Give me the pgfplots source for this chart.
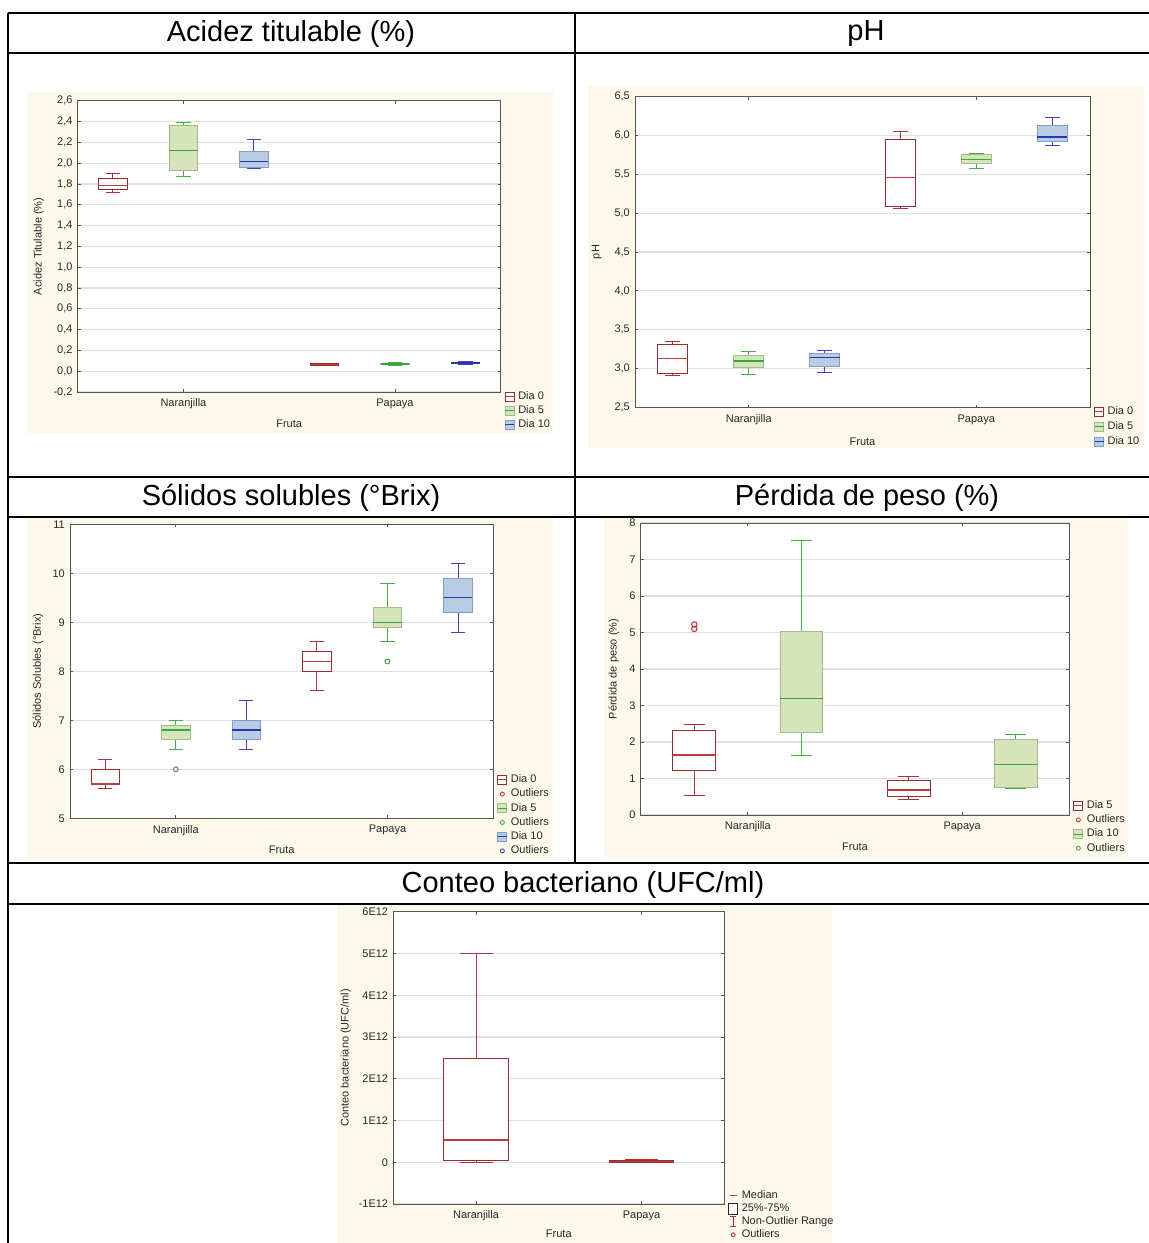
\documentclass[border=0pt]{standalone}
\usepackage{fontspec}
\setmainfont{Liberation Sans}
\usepackage{pgfplots}
\pgfplotsset{compat=1.18}
\usepgfplotslibrary{statistics}
\definecolor{cream}{RGB}{253,249,234}
\definecolor{frame}{RGB}{85,85,85}
\definecolor{gridc}{RGB}{224,224,224}
\definecolor{txt}{RGB}{40,40,40}
\definecolor{rE}{RGB}{150,45,45}
\definecolor{rM}{RGB}{190,60,60}
\definecolor{rW}{RGB}{175,50,50}
\definecolor{gE}{RGB}{160,188,135}
\definecolor{gF}{RGB}{214,228,188}
\definecolor{gM}{RGB}{55,168,55}
\definecolor{gW}{RGB}{70,175,70}
\definecolor{bE}{RGB}{128,158,200}
\definecolor{bF}{RGB}{184,204,228}
\definecolor{bM}{RGB}{40,55,175}
\definecolor{bW}{RGB}{65,65,190}
\newcommand{\sm}{\fontsize{11bp}{13bp}\selectfont}
\newcommand{\hdr}{\fontsize{29bp}{34bp}\selectfont}
\newcommand{\spacer}{\path[draw=none,fill=none] (0bp,0bp) rectangle (12bp,0.1bp);}
\newcommand{\legbox}[3]{\addlegendimage{legend image code/.code={\spacer \draw[draw=#1,fill=#2,line width=0.9bp] (0bp,-4.5bp) rectangle (9bp,4.5bp); \draw[draw=#3,line width=1.1bp] (0bp,0bp) -- (9bp,0bp);}}}
\newcommand{\legout}[1]{\addlegendimage{legend image code/.code={\spacer \draw[draw=#1,fill=none,line width=0.9bp] (4.5bp,0bp) circle (2bp);}}}
\pgfplotsset{
  panel/.style={
    scale only axis, anchor=north west,
    xmin=0.5, xmax=2.5, xtick={1,2}, xticklabels={Naranjilla,Papaya},
    axis line style={draw=frame, line width=0.9bp},
    tick style={draw=frame, line width=0.8bp},
    tick align=inside, tick pos=both, major tick length=3bp,
    ymajorgrids, grid style={draw=gridc, line width=1.2bp},
    axis background/.style={fill=white},
    font=\sm,
    every tick label/.append style={text=txt, font=\sm},
    xticklabel style={anchor=center, yshift=-12bp},
    yticklabel style={anchor=east, inner sep=0pt, xshift=-5bp},
    /pgf/number format/assume math mode=true,
    xlabel={Fruta},
    every axis x label/.style={anchor=center, text=txt, font=\sm},
    every axis y label/.style={anchor=center, rotate=90, text=txt, font=\sm},
    legend cell align=left,
    boxplot/draw direction=y,
  },
  lg/.style 2 args={legend style={at={(1,0)}, anchor=north west, xshift=#1, yshift=#2,
    draw=none, fill=none, inner sep=0pt, outer sep=0pt, row sep=1.7bp, font=\sm, text=txt,
    nodes={inner sep=1bp, text height=8bp, text depth=2.5bp}}},
  dR/.style={boxplot/every box/.style={draw=rE,fill=white,line width=1bp}, boxplot/every median/.style={draw=rM,line width=1.2bp}, boxplot/every whisker/.style={draw=rW,line width=1bp}},
  dG/.style={boxplot/every box/.style={draw=gE,fill=gF,line width=1bp}, boxplot/every median/.style={draw=gM,line width=1.3bp}, boxplot/every whisker/.style={draw=gW,line width=1bp}},
  dB/.style={boxplot/every box/.style={draw=bE,fill=bF,line width=1bp}, boxplot/every median/.style={draw=bM,line width=1.3bp}, boxplot/every whisker/.style={draw=bW,line width=1bp}},
}
\begin{document}
\begin{tikzpicture}
\path[use as bounding box] (0bp,0bp) rectangle (1149bp,-1243bp);
\begin{scope}[x=1bp,y=-1bp]
\fill[cream] (27,92) rectangle (553,433);
\fill[cream] (588,86) rectangle (1144,448);
\fill[cream] (27,518) rectangle (553,858);
\fill[cream] (604,518) rectangle (1128,857);
\fill[cream] (337,905) rectangle (832,1243);
\begin{scope}[line width=1.6bp, black]
\draw (8,13) -- (1149,13);
\draw (8,53) -- (1149,53);
\draw (8,477) -- (1149,477);
\draw (8,517) -- (1149,517);
\draw (8,863) -- (1149,863);
\draw (8,904) -- (1149,904);
\draw (8,13) -- (8,1243);
\draw (575,13) -- (575,863);
\end{scope}
\node[font=\hdr, inner sep=0pt] at (291,34) {Acidez titulable (\%)};
\node[font=\hdr, inner sep=0pt] at (866,34) {pH};
\node[font=\hdr, inner sep=0pt] at (291,498) {Sólidos solubles (°Brix)};
\node[font=\hdr, inner sep=0pt] at (867,498) {Pérdida de peso (\%)};
\node[font=\hdr, inner sep=0pt] at (583,884.5) {Conteo bacteriano (UFC/ml)};
\end{scope}

% Panel 1: Acidez
\begin{axis}[panel, at={(77.7bp,-100.7bp)}, width=423bp, height=291.3bp,
  ymin=-0.2, ymax=2.6, ytick={-0.2,0,0.2,0.4,0.6,0.8,1,1.2,1.4,1.6,1.8,2,2.2,2.4,2.6},
  yticklabel style={/pgf/number format/.cd, fixed, fixed zerofill, precision=1, use comma},
  ylabel={Acidez Titulable (\%)},
  x label style={at={(axis description cs:0.5,-0.11)}},
  y label style={at={(axis description cs:-0.0922,0.5)}},
  boxplot={box extend=0.135, whisker extend=0.0675},
  lg={4bp}{1.8bp}]
\addplot[dR, forget plot, boxplot prepared={draw position=0.6667, lower whisker=1.716, lower quartile=1.748, median=1.783, upper quartile=1.857, upper whisker=1.898}] coordinates {};
\addplot[dG, forget plot, boxplot prepared={draw position=1, lower whisker=1.873, lower quartile=1.930, median=2.119, upper quartile=2.363, upper whisker=2.392}] coordinates {};
\addplot[dB, forget plot, boxplot prepared={draw position=1.3333, lower whisker=1.946, lower quartile=1.962, median=2.017, upper quartile=2.113, upper whisker=2.225}] coordinates {};
\addplot[dR, forget plot, boxplot prepared={draw position=1.6667, lower whisker=0.050, lower quartile=0.058, median=0.065, upper quartile=0.075, upper whisker=0.077}] coordinates {};
\addplot[dG, forget plot, boxplot prepared={draw position=2, lower whisker=0.058, lower quartile=0.062, median=0.068, upper quartile=0.076, upper whisker=0.080}] coordinates {};
\addplot[dB, forget plot, boxplot prepared={draw position=2.3333, lower whisker=0.068, lower quartile=0.072, median=0.080, upper quartile=0.087, upper whisker=0.090}] coordinates {};
\legbox{rE}{white}{rM}\addlegendentry{Dia 0}
\legbox{gE}{gF}{gM}\addlegendentry{Dia 5}
\legbox{bE}{bF}{bM}\addlegendentry{Dia 10}
\end{axis}

% Panel 2: pH
\begin{axis}[panel, at={(635bp,-96.5bp)}, width=455bp, height=311bp,
  ymin=2.5, ymax=6.5, ytick={2.5,3,3.5,4,4.5,5,5.5,6,6.5},
  yticklabel style={/pgf/number format/.cd, fixed, fixed zerofill, precision=1, use comma},
  ylabel={pH},
  x label style={at={(axis description cs:0.5,-0.1106)}},
  y label style={at={(axis description cs:-0.0842,0.5)}},
  boxplot={box extend=0.132, whisker extend=0.066},
  lg={4bp}{2.3bp}, legend style={row sep=2.6bp}]
\addplot[dR, forget plot, boxplot prepared={draw position=0.6667, lower whisker=2.917, lower quartile=2.943, median=3.132, upper quartile=3.312, upper whisker=3.346}] coordinates {};
\addplot[dG, forget plot, boxplot prepared={draw position=1, lower whisker=2.930, lower quartile=3.011, median=3.097, upper quartile=3.170, upper whisker=3.226}] coordinates {};
\addplot[dB, forget plot, boxplot prepared={draw position=1.3333, lower whisker=2.955, lower quartile=3.024, median=3.145, upper quartile=3.196, upper whisker=3.239}] coordinates {};
\addplot[dR, forget plot, boxplot prepared={draw position=1.6667, lower whisker=5.061, lower quartile=5.086, median=5.460, upper quartile=5.946, upper whisker=6.053}] coordinates {};
\addplot[dG, forget plot, boxplot prepared={draw position=2, lower whisker=5.576, lower quartile=5.632, median=5.688, upper quartile=5.757, upper whisker=5.765}] coordinates {};
\addplot[dB, forget plot, boxplot prepared={draw position=2.3333, lower whisker=5.868, lower quartile=5.916, median=5.980, upper quartile=6.122, upper whisker=6.229}] coordinates {};
\legbox{rE}{white}{rM}\addlegendentry{Dia 0}
\legbox{gE}{gF}{gM}\addlegendentry{Dia 5}
\legbox{bE}{bF}{bM}\addlegendentry{Dia 10}
\end{axis}

% Panel 3: Solidos solubles
\begin{axis}[panel, at={(70bp,-524.3bp)}, width=423.3bp, height=294bp,
  ymin=5, ymax=11, ytick={5,6,7,8,9,10,11},
  ylabel={Sólidos Solubles (°Brix)},
  x label style={at={(axis description cs:0.5,-0.108)}},
  y label style={at={(axis description cs:-0.0756,0.5)}},
  boxplot={box extend=0.134, whisker extend=0.067},
  lg={4bp}{44.7bp}]
\addplot[dR, forget plot, boxplot prepared={draw position=0.6667, lower whisker=5.6, lower quartile=5.7, median=5.7, upper quartile=6.0, upper whisker=6.2}] coordinates {};
\addplot[dG, forget plot, boxplot prepared={draw position=1, lower whisker=6.4, lower quartile=6.6, median=6.8, upper quartile=6.9, upper whisker=7.0}] coordinates {};
\addplot[dB, forget plot, boxplot prepared={draw position=1.3333, lower whisker=6.4, lower quartile=6.6, median=6.8, upper quartile=7.0, upper whisker=7.4}] coordinates {};
\addplot[dR, forget plot, boxplot prepared={draw position=1.6667, lower whisker=7.6, lower quartile=8.0, median=8.2, upper quartile=8.4, upper whisker=8.6}] coordinates {};
\addplot[dG, forget plot, boxplot prepared={draw position=2, lower whisker=8.6, lower quartile=8.9, median=9.0, upper quartile=9.3, upper whisker=9.8}] coordinates {};
\addplot[dB, forget plot, boxplot prepared={draw position=2.3333, lower whisker=8.8, lower quartile=9.2, median=9.5, upper quartile=9.9, upper whisker=10.2}] coordinates {};
\addplot[only marks, forget plot, mark=o, mark size=2.4bp, mark options={draw=gW, line width=1.1bp}] coordinates {(1,6.0) (2,8.2)};
\legbox{rE}{white}{rM}\addlegendentry{Dia 0}
\legout{rM}\addlegendentry{Outliers}
\legbox{gE}{gF}{gM}\addlegendentry{Dia 5}
\legout{gW}\addlegendentry{Outliers}
\legbox{bE}{bF}{bM}\addlegendentry{Dia 10}
\legout{bW}\addlegendentry{Outliers}
\end{axis}

% Panel 4: Perdida de peso
\begin{axis}[panel, at={(640.7bp,-523bp)}, width=428.6bp, height=292bp,
  ymin=0, ymax=8, ytick={0,1,2,3,4,5,6,7,8},
  ylabel={Pérdida de peso (\%)},
  x label style={at={(axis description cs:0.5,-0.1086)}},
  y label style={at={(axis description cs:-0.063,0.5)}},
  boxplot={box extend=0.2, whisker extend=0.1},
  lg={4bp}{15.6bp}]
\addplot[dR, forget plot, boxplot prepared={draw position=0.75, lower whisker=0.54, lower quartile=1.215, median=1.644, upper quartile=2.32, upper whisker=2.484}] coordinates {};
\addplot[dG, forget plot, boxplot prepared={draw position=1.25, lower whisker=1.626, lower quartile=2.265, median=3.196, upper quartile=5.02, upper whisker=7.516}] coordinates {};
\addplot[dR, forget plot, boxplot prepared={draw position=1.75, lower whisker=0.43, lower quartile=0.50, median=0.685, upper quartile=0.94, upper whisker=1.05}] coordinates {};
\addplot[dG, forget plot, boxplot prepared={draw position=2.25, lower whisker=0.721, lower quartile=0.767, median=1.388, upper quartile=2.082, upper whisker=2.20}] coordinates {};
\addplot[only marks, forget plot, mark=o, mark size=2.7bp, mark options={draw=rM, line width=1.1bp}] coordinates {(0.75,5.10) (0.75,5.22)};
\legbox{rE}{white}{rM}\addlegendentry{Dia 5}
\legout{rM}\addlegendentry{Outliers}
\legbox{gE}{gF}{gM}\addlegendentry{Dia 10}
\legout{gW}\addlegendentry{Outliers}
\end{axis}

% Panel 5: Conteo bacteriano
\begin{axis}[panel, at={(393.3bp,-911.7bp)}, width=331bp, height=292.3bp,
  ymin=-1e12, ymax=6e12, ytick={-1e12,0,1e12,2e12,3e12,4e12,5e12,6e12},
  yticklabels={-1E12,0,1E12,2E12,3E12,4E12,5E12,6E12}, scaled y ticks=false,
  ylabel={Conteo bacteriano (UFC/ml)},
  x label style={at={(axis description cs:0.5,-0.1026)}},
  y label style={at={(axis description cs:-0.1438,0.5)}},
  boxplot={box extend=0.39, whisker extend=0.2},
  lg={4bp}{14.5bp},
  legend style={row sep=0.5bp}]
\addplot[dR, forget plot, boxplot prepared={draw position=1, lower whisker=0, lower quartile=0.03e12, median=0.533e12, upper quartile=2.49e12, upper whisker=5.0e12}] coordinates {};
\addplot[dR, forget plot, boxplot prepared={draw position=2, lower whisker=0, lower quartile=0.005e12, median=0.01e12, upper quartile=0.04e12, upper whisker=0.07e12}] coordinates {};
\addlegendimage{legend image code/.code={\spacer \draw[draw=rM,line width=1bp] (1bp,0bp) -- (8bp,0bp);}}\addlegendentry{Median}
\addlegendimage{legend image code/.code={\spacer \draw[draw=txt,fill=white,line width=0.9bp] (0bp,-5.5bp) rectangle (9bp,5.5bp);}}\addlegendentry{25\%-75\%}
\addlegendimage{legend image code/.code={\spacer \draw[draw=rW,line width=1bp] (4.5bp,-5bp) -- (4.5bp,5bp) (1.5bp,-5bp) -- (7.5bp,-5bp) (1.5bp,5bp) -- (7.5bp,5bp);}}\addlegendentry{Non-Outlier Range}
\legout{rM}\addlegendentry{Outliers}
\end{axis}
\end{tikzpicture}
\end{document}
